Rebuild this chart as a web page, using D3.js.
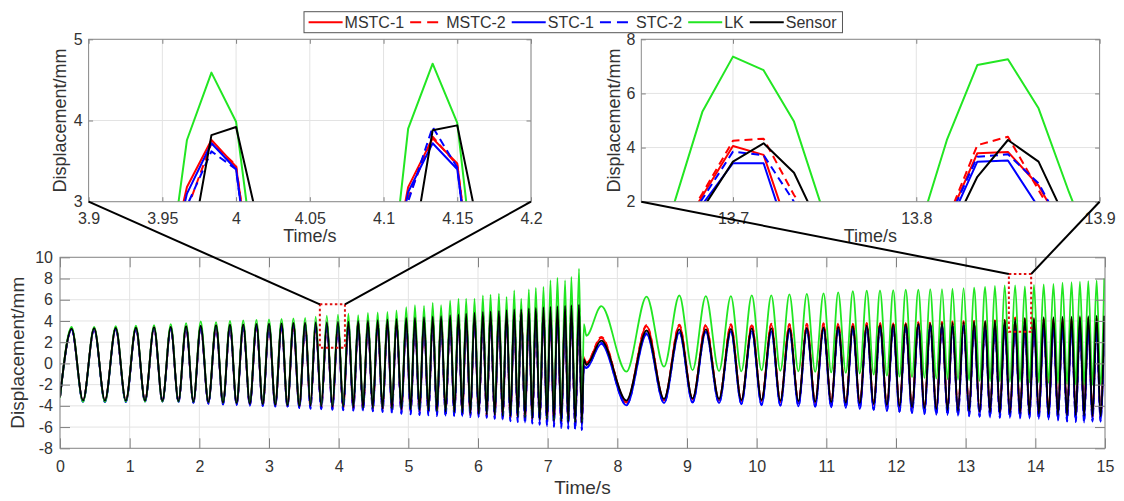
<!DOCTYPE html>
<html><head><meta charset="utf-8">
<script src="https://cdn.jsdelivr.net/npm/d3@7"></script>
<style>
body{margin:0;background:#fff;}
svg text{font-family:"Liberation Sans",Arial,Helvetica,sans-serif;fill:#333;}
</style></head><body>
<svg id="chart" width="1124" height="501"></svg>
<script>
// ---- extremum times of the main record ----
var peakT1 = [0.167,0.49,0.80,1.09,1.35,1.59,1.81,2.02,2.24,2.44,2.63,2.82,3.00,3.18,3.35,3.52,3.67,3.83,3.99,4.14,4.28,4.42,4.56,4.70,4.83,4.97,5.095,5.225,5.35,5.47,5.60,5.72,5.83,5.95,6.07,6.18,6.30,6.41,6.52,6.62,6.73,6.83,6.94,7.04,7.14,7.25,7.34,7.45];
var troughT1 = [0.33,0.645,0.945,1.22,1.47,1.70,1.915,2.13,2.34,2.535,2.725,2.91,3.09,3.265,3.435,3.595,3.75,3.91,4.065,4.21,4.35,4.49,4.63,4.765,4.90,5.033,5.16,5.288,5.41,5.535,5.66,5.775,5.89,6.01,6.125,6.24,6.355,6.465,6.57,6.675,6.78,6.885,6.99,7.09,7.195,7.295,7.395,7.49];
var peakT2 = [7.77,8.42,8.89,9.27,9.63,9.93,10.21,10.47,10.72,10.96,11.17,11.38,11.58,11.77,11.96,12.14,12.32,12.49,12.66,12.81,12.97,13.12,13.28,13.42,13.56,13.71,13.85,13.98,14.12,14.26,14.39,14.52,14.64,14.76,14.88,14.99];
var troughT2 = [8.13,8.67,9.08,9.46,9.78,10.07,10.34,10.60,10.84,11.07,11.28,11.48,11.68,11.87,12.05,12.23,12.41,12.58,12.74,12.89,13.05,13.20,13.35,13.49,13.635,13.78,13.915,14.05,14.19,14.325,14.455,14.58,14.70,14.82,14.935];
var joinT = [0, 7.52, 7.555];

// ---- MSTC-1 ----
var mstc1Pk1 = [3.25,3.3,3.32,3.35,3.38,3.42,3.46,3.5,3.55,3.58,3.6,3.62,3.65,3.68,3.7,3.72,3.74,3.75,3.76,3.78,3.85,3.9,3.95,4.0,4.08,4.15,4.2,4.25,4.3,4.35,4.42,4.5,4.58,4.65,4.72,4.78,4.82,4.9,4.95,5.0,5.05,5.1,5.18,5.22,5.28,5.32,5.38,5.42];
var mstc1Tr1 = [-3.55,-3.55,-3.55,-3.55,-3.58,-3.6,-3.65,-3.7,-3.75,-3.8,-3.85,-3.9,-3.95,-4.0,-4.05,-4.08,-4.12,-4.18,-4.2,-4.25,-4.3,-4.3,-4.35,-4.4,-4.45,-4.48,-4.52,-4.58,-4.62,-4.68,-4.72,-4.78,-4.82,-4.88,-4.92,-4.98,-5.05,-5.1,-5.15,-5.22,-5.3,-5.35,-5.42,-5.5,-5.55,-5.62,-5.68,-5.72];
var mstc1Pk2 = [2.4,3.5,3.55,3.55,3.6,3.6,3.65,3.65,3.65,3.7,3.7,3.75,3.75,3.8,3.8,3.82,3.85,3.85,3.88,3.9,3.92,3.95,3.98,4.0,4.02,4.06,3.86,4.1,4.15,4.18,4.2,4.22,4.25,4.25,4.28,4.3];
var mstc1Tr2 = [-3.65,-3.45,-3.4,-3.45,-3.55,-3.55,-3.6,-3.65,-3.7,-3.75,-3.8,-3.85,-3.9,-4.0,-4.08,-4.18,-4.28,-4.38,-4.45,-4.5,-4.55,-4.6,-4.65,-4.7,-4.75,-4.75,-4.8,-4.8,-4.85,-4.9,-4.95,-4.95,-5.0,-5.05,-5.05];
var mstc1Join = [-3.2, 0.55, 0.0];
// ---- MSTC-2 ----
var mstc2Pk1 = [3.24,3.3,3.33,3.36,3.4,3.43,3.47,3.52,3.56,3.6,3.62,3.64,3.66,3.68,3.7,3.71,3.72,3.72,3.72,3.8,3.88,3.92,3.98,4.05,4.1,4.18,4.22,4.28,4.32,4.38,4.45,4.52,4.6,4.68,4.75,4.8,4.85,4.92,4.98,5.02,5.08,5.12,5.2,5.25,5.3,5.35,5.4,5.45];
var mstc2Tr1 = [-3.55,-3.56,-3.56,-3.56,-3.6,-3.62,-3.66,-3.72,-3.78,-3.82,-3.88,-3.92,-3.98,-4.02,-4.08,-4.1,-4.15,-4.2,-4.22,-4.28,-4.32,-4.34,-4.38,-4.42,-4.48,-4.5,-4.55,-4.6,-4.65,-4.7,-4.75,-4.8,-4.85,-4.9,-4.95,-5.0,-5.08,-5.12,-5.18,-5.25,-5.32,-5.38,-5.45,-5.52,-5.58,-5.65,-5.7,-5.75];
var mstc2Pk2 = [2.5,3.6,3.65,3.65,3.7,3.7,3.75,3.72,3.75,3.8,3.78,3.8,3.82,3.85,3.85,3.88,3.9,3.9,3.92,3.95,3.98,4.0,4.02,4.05,4.1,4.33,4.4,4.15,4.2,4.22,4.25,4.28,4.3,4.3,4.32,4.35];
var mstc2Tr2 = [-3.7,-3.5,-3.45,-3.5,-3.58,-3.6,-3.65,-3.7,-3.75,-3.8,-3.85,-3.9,-3.95,-4.05,-4.12,-4.22,-4.32,-4.4,-4.48,-4.52,-4.58,-4.62,-4.68,-4.72,-4.78,-4.78,-4.82,-4.85,-4.88,-4.92,-4.98,-5.0,-5.02,-5.08,-5.08];
var mstc2Join = [-3.22, 0.6, 0.05];
// ---- STC-1 ----
var stc1Pk1 = [3.22,3.26,3.28,3.3,3.34,3.38,3.42,3.46,3.5,3.54,3.56,3.6,3.62,3.65,3.68,3.7,3.71,3.72,3.72,3.72,3.8,3.85,3.9,3.98,4.05,4.12,4.18,4.22,4.28,4.32,4.4,4.48,4.55,4.62,4.7,4.75,4.8,4.88,4.92,4.98,5.02,5.08,5.15,5.2,5.25,5.3,5.35,5.4];
var stc1Tr1 = [-3.6,-3.62,-3.62,-3.6,-3.62,-3.65,-3.7,-3.78,-3.85,-3.9,-3.95,-4.0,-4.05,-4.1,-4.2,-4.25,-4.3,-4.35,-4.4,-4.42,-4.45,-4.5,-4.55,-4.65,-4.72,-4.78,-4.85,-4.88,-4.92,-4.95,-4.98,-5.0,-5.02,-5.05,-5.1,-5.2,-5.3,-5.42,-5.5,-5.58,-5.65,-5.75,-5.85,-5.95,-6.05,-6.12,-6.18,-6.25];
var stc1Pk2 = [1.85,2.75,2.9,2.95,3.0,3.05,3.05,3.1,3.15,3.2,3.25,3.3,3.35,3.4,3.45,3.5,3.5,3.55,3.55,3.55,3.55,3.5,3.5,3.5,3.45,3.42,3.52,3.55,3.6,3.6,3.6,3.65,3.65,3.6,3.5,3.2];
var stc1Tr2 = [-3.95,-3.75,-3.7,-3.75,-3.85,-3.95,-4.0,-4.05,-4.1,-4.15,-4.2,-4.3,-4.4,-4.5,-4.6,-4.7,-4.8,-4.85,-4.9,-4.95,-5.0,-5.05,-5.1,-5.15,-5.15,-5.2,-5.2,-5.25,-5.3,-5.4,-5.5,-5.55,-5.58,-5.5,-5.5];
var stc1Join = [-3.2, -0.25, -0.45];
// ---- STC-2 ----
var stc2Pk1 = [3.2,3.25,3.27,3.3,3.33,3.37,3.4,3.45,3.48,3.52,3.55,3.57,3.6,3.62,3.64,3.65,3.65,3.64,3.62,3.9,3.78,3.84,3.9,3.96,4.02,4.1,4.15,4.2,4.25,4.3,4.38,4.45,4.52,4.6,4.66,4.72,4.78,4.85,4.9,4.95,5.0,5.05,5.12,5.18,5.22,5.28,5.32,5.38];
var stc2Tr1 = [-3.62,-3.64,-3.64,-3.62,-3.64,-3.68,-3.72,-3.8,-3.88,-3.92,-3.98,-4.02,-4.08,-4.12,-4.22,-4.28,-4.32,-4.38,-4.42,-4.45,-4.48,-4.52,-4.58,-4.68,-4.75,-4.8,-4.88,-4.9,-4.95,-4.98,-5.0,-5.02,-5.05,-5.08,-5.12,-5.22,-5.32,-5.45,-5.52,-5.6,-5.68,-5.78,-5.88,-5.98,-6.08,-6.15,-6.2,-6.28];
var stc2Pk2 = [1.95,2.85,2.95,3.0,3.05,3.1,3.1,3.15,3.2,3.25,3.3,3.35,3.4,3.45,3.5,3.55,3.55,3.6,3.6,3.62,3.62,3.6,3.6,3.62,3.7,3.85,3.75,3.7,3.72,3.72,3.75,3.75,3.75,3.7,3.6,3.3];
var stc2Tr2 = [-3.9,-3.7,-3.65,-3.7,-3.8,-3.9,-3.95,-4.0,-4.05,-4.1,-4.15,-4.25,-4.35,-4.45,-4.55,-4.65,-4.75,-4.8,-4.85,-4.9,-4.95,-5.0,-5.05,-5.1,-5.1,-5.15,-5.15,-5.2,-5.25,-5.35,-5.45,-5.5,-5.52,-5.45,-5.45];
var stc2Join = [-3.22, -0.2, -0.4];
// ---- LK ----
var lkPk1 = [3.43,3.45,3.5,3.55,3.6,3.7,3.8,3.95,3.9,4.0,4.05,4.1,4.15,4.2,4.25,4.3,4.4,4.5,4.59,4.7,4.55,4.75,4.8,4.85,5.0,5.3,5.48,5.42,5.7,5.48,5.95,6.1,6.1,6.1,6.42,6.48,6.58,6.26,6.89,6.1,6.98,7.11,7.2,7.83,8.05,7.83,8.15,8.93];
var lkTr1 = [-3.62,-3.62,-3.6,-3.6,-3.6,-3.6,-3.62,-3.65,-3.7,-3.72,-3.75,-3.8,-3.85,-3.9,-3.95,-3.95,-4.0,-4.02,-4.05,-4.1,-4.12,-4.15,-4.2,-4.22,-4.25,-4.3,-4.35,-4.4,-4.45,-4.5,-4.55,-4.6,-4.65,-4.7,-4.75,-4.8,-4.88,-4.92,-4.98,-5.02,-5.1,-5.15,-5.2,-5.3,-5.35,-5.4,-5.45,-5.5];
var lkPk2 = [5.4,6.3,6.4,6.35,6.35,6.42,6.42,6.5,6.55,6.6,6.7,6.8,6.85,6.89,6.9,6.95,6.95,7.0,7.0,7.05,7.1,7.15,7.2,7.3,7.36,7.36,7.26,7.4,7.45,7.5,7.6,7.65,7.7,7.75,7.83,8.0];
var lkTr2 = [-0.78,-0.31,-0.63,-0.72,-0.75,-0.65,-0.7,-0.75,-0.8,-0.85,-0.9,-0.95,-1.05,-1.15,-1.25,-1.3,-1.38,-1.43,-1.5,-1.55,-1.6,-1.65,-1.7,-1.7,-1.75,-1.75,-1.8,-1.8,-1.85,-1.9,-1.95,-2.0,-2.0,-2.05,-2.0];
var lkJoin = [-3.25, 3.7, 2.6];
// ---- Sensor ----
var sensorPk1 = [3.28,3.32,3.35,3.38,3.42,3.45,3.5,3.55,3.6,3.65,3.68,3.72,3.75,3.78,3.82,3.85,3.88,3.9,3.93,3.95,4.0,4.02,4.08,4.15,4.2,4.28,4.32,4.36,4.42,4.45,4.55,4.62,4.7,4.78,4.85,4.9,4.95,5.02,5.08,5.1,5.18,5.22,5.3,5.35,5.4,5.45,5.5,5.55];
var sensorTr1 = [-3.48,-3.5,-3.5,-3.5,-3.52,-3.55,-3.6,-3.65,-3.7,-3.75,-3.8,-3.85,-3.9,-3.95,-4.0,-4.0,-4.05,-4.1,-4.1,-4.15,-4.2,-4.2,-4.25,-4.28,-4.32,-4.35,-4.4,-4.45,-4.5,-4.55,-4.6,-4.65,-4.7,-4.75,-4.8,-4.85,-4.95,-5.0,-5.05,-5.1,-5.2,-5.25,-5.3,-5.4,-5.45,-5.5,-5.55,-5.6];
var sensorPk2 = [2.15,3.1,3.2,3.2,3.25,3.3,3.3,3.3,3.35,3.4,3.45,3.5,3.55,3.6,3.65,3.7,3.72,3.75,3.8,3.85,3.9,3.95,4.0,4.05,4.1,4.16,4.28,4.3,4.35,4.35,4.4,4.4,4.45,4.45,4.5,4.5];
var sensorTr2 = [-3.5,-3.35,-3.3,-3.35,-3.45,-3.45,-3.5,-3.55,-3.6,-3.65,-3.7,-3.75,-3.8,-3.9,-4.0,-4.1,-4.2,-4.3,-4.4,-4.45,-4.5,-4.55,-4.6,-4.65,-4.7,-4.7,-4.75,-4.75,-4.8,-4.85,-4.9,-4.9,-4.95,-5.0,-5.0];
var sensorJoin = [-3.17, 0.4, -0.15];

// ---- zoomed samples (60 Hz) ----
var inset1T = [3.95,3.9667,3.9833,4.0,4.0167,4.1,4.1167,4.1333,4.15,4.1667];
var in1Mstc1 = [1.88,3.18,3.76,3.43,1.3,1.6,3.18,3.78,3.47,1.0];
var in1Mstc2 = [1.5,2.9,3.72,3.45,1.2,1.4,3.05,3.8,3.45,1.1];
var in1Stc1 = [1.8,3.1,3.72,3.40,1.1,1.5,3.12,3.72,3.40,1.0];
var in1Stc2 = [1.6,2.95,3.62,3.40,1.1,1.4,3.0,3.92,3.42,1.0];
var in1Lk = [1.53,3.76,4.59,3.985,1.64,1.17,3.90,4.70,3.97,1.3];
var in1Sensor = [0.3,2.13,3.82,3.92,2.6,0.2,2.05,3.88,3.94,2.46];

var inset2T = [13.6667,13.6833,13.7,13.7167,13.7333,13.75,13.8,13.8167,13.8333,13.85,13.8667,13.8833,13.9];
var in2Mstc1 = [0.4,2.21,4.06,3.73,0.4,-1.0,-0.5,1.23,3.79,3.84,2.6,0.6,-1.0];
var in2Mstc2 = [0.5,2.3,4.25,4.33,2.25,0.5,-0.5,1.3,4.09,4.40,2.43,0.5,-1.0];
var in2Stc1 = [0.3,1.9,3.42,3.42,0.0,-1.0,-0.5,1.0,3.48,3.52,1.79,0.0,-1.0];
var in2Stc2 = [0.4,2.1,3.85,3.72,2.0,0.0,-0.5,1.2,3.66,3.75,2.68,0.6,-1.0];
var in2Lk = [1.67,5.32,7.36,6.86,4.96,1.48,0.61,4.28,7.05,7.26,5.45,2.35,-0.5];
var in2Sensor = [0.5,1.73,3.48,4.16,3.07,0.69,-0.7,0.6,2.92,4.28,3.48,1.09,-1.0];

// zoom windows marked on the main plot [t0, t1, v0, v1]
var zoomBox1 = [3.73, 4.09, 1.48, 5.57];
var zoomBox2 = [13.62, 13.94, 2.99, 8.43];

var mainXTicks = d3.range(0, 16);
var mainYTicks = [-8,-6,-4,-2,0,2,4,6,8,10];
var in1XTicks = [3.9,3.95,4,4.05,4.1,4.15,4.2];
var in1YTicks = [3,4,5];
var in2XTicks = [13.7,13.8,13.9];
var in2YTicks = [2,4,6,8];

var series = [
  {name:'MSTC-1', color:'#ff0000', dash:null,  main:[mstc1Pk1,mstc1Tr1,mstc1Pk2,mstc1Tr2,mstc1Join], in1:in1Mstc1, in2:in2Mstc1},
  {name:'MSTC-2', color:'#ff0000', dash:true,  main:[mstc2Pk1,mstc2Tr1,mstc2Pk2,mstc2Tr2,mstc2Join], in1:in1Mstc2, in2:in2Mstc2},
  {name:'STC-1',  color:'#0000ff', dash:null,  main:[stc1Pk1,stc1Tr1,stc1Pk2,stc1Tr2,stc1Join], in1:in1Stc1, in2:in2Stc1},
  {name:'STC-2',  color:'#0000ff', dash:true,  main:[stc2Pk1,stc2Tr1,stc2Pk2,stc2Tr2,stc2Join], in1:in1Stc2, in2:in2Stc2},
  {name:'LK',     color:'#22e622', dash:null,  main:[lkPk1,lkTr1,lkPk2,lkTr2,lkJoin], in1:in1Lk, in2:in2Lk},
  {name:'Sensor', color:'#000000', dash:null,  main:[sensorPk1,sensorTr1,sensorPk2,sensorTr2,sensorJoin], in1:in1Sensor, in2:in2Sensor}
];

// merge the extrema of one series into a time ordered list
function mainPoints(s) {
  var pk1 = s[0], tr1 = s[1], pk2 = s[2], tr2 = s[3], jn = s[4];
  var pts = [[joinT[0], jn[0]]];
  peakT1.forEach(function (t, i) { pts.push([t, pk1[i]], [troughT1[i], tr1[i]]); });
  pts.push([joinT[1], jn[1]], [joinT[2], jn[2]]);
  peakT2.forEach(function (t, i) {
    pts.push([t, pk2[i]]);
    if (i < troughT2.length) pts.push([troughT2[i], tr2[i]]);
  });
  return pts;
}

var svg = d3.select('#chart');
svg.append('rect').attr('width', 1124).attr('height', 501).attr('fill', '#fff');

var fmt = function (d) { return String(+d.toFixed(2)); };

function drawPanel(id, x, y, xt, yt, opt) {
  var g = svg.append('g').attr('class', id);
  var L = x.range()[0], R = x.range()[1], B = y.range()[0], T = y.range()[1];

  // grid
  g.append('g').selectAll('line.vg').data(xt).enter().append('line')
    .attr('class', 'vg')
    .attr('x1', x).attr('x2', x).attr('y1', T).attr('y2', B)
    .attr('stroke', '#e3e3e3').attr('stroke-width', 1);
  g.append('g').selectAll('line.hg').data(yt).enter().append('line')
    .attr('class', 'hg')
    .attr('x1', L).attr('x2', R).attr('y1', y).attr('y2', y)
    .attr('stroke', '#e3e3e3').attr('stroke-width', 1);

  // data lines
  g.append('clipPath').attr('id', 'clip-' + id)
    .append('rect').attr('x', L).attr('y', T).attr('width', R - L).attr('height', B - T);
  var lines = g.append('g').attr('clip-path', 'url(#clip-' + id + ')');
  var line = d3.line().x(function (d) { return x(d[0]); }).y(function (d) { return y(d[1]); });
  if (opt.curve) line.curve(opt.curve);
  series.forEach(function (s) {
    lines.append('path')
      .datum(opt.points(s))
      .attr('d', line)
      .attr('fill', 'none')
      .attr('stroke', s.color)
      .attr('stroke-width', opt.lw)
      .attr('stroke-linejoin', 'round')
      .attr('stroke-dasharray', s.dash ? opt.dash : null);
  });

  // axes, ticks inside on every side
  var tl = opt.tickLen;
  var ax = [
    g.append('g').attr('transform', 'translate(0,' + B + ')')
      .call(d3.axisBottom(x).tickValues(xt).tickSize(-tl).tickPadding(opt.xPad).tickFormat(fmt)),
    g.append('g').attr('transform', 'translate(0,' + T + ')')
      .call(d3.axisTop(x).tickValues(xt).tickSize(-tl).tickFormat('')),
    g.append('g').attr('transform', 'translate(' + L + ',0)')
      .call(d3.axisLeft(y).tickValues(yt).tickSize(-tl).tickPadding(opt.yPad).tickFormat(fmt)),
    g.append('g').attr('transform', 'translate(' + R + ',0)')
      .call(d3.axisRight(y).tickValues(yt).tickSize(-tl).tickFormat(''))
  ];
  ax.forEach(function (a) {
    a.select('.domain').remove();
    a.selectAll('.tick line').attr('stroke', '#808080');
    a.selectAll('.tick text').attr('font-size', 16).attr('fill', '#333')
      .attr('font-family', '"Liberation Sans", Arial, sans-serif');
  });

  g.append('rect').attr('x', L).attr('y', T).attr('width', R - L).attr('height', B - T)
    .attr('fill', 'none').attr('stroke', '#8a8a8a').attr('stroke-width', 1);

  // labels
  g.append('text').attr('x', (L + R) / 2).attr('y', opt.xLabelY)
    .attr('text-anchor', 'middle').attr('font-size', opt.xLabelSize).text('Time/s');
  g.append('text')
    .attr('transform', 'translate(' + opt.yLabelX + ',' + (T + B) / 2 + ') rotate(-90)')
    .attr('text-anchor', 'middle').attr('font-size', opt.yLabelSize).text('Displacement/mm');
  return g;
}

// main plot
var mx = d3.scaleLinear().domain([0, 15]).range([60, 1105]);
var my = d3.scaleLinear().domain([-8, 10]).range([448.3, 257.3]);
drawPanel('main', mx, my, mainXTicks, mainYTicks, {
  points: function (s) { return mainPoints(s.main); },
  curve: d3.curveMonotoneX, lw: 1.8, dash: '6,4', tickLen: 10, xPad: 12, yPad: 7,
  xLabelY: 494, xLabelSize: 19, yLabelX: 24, yLabelSize: 19
});

// inset 1
var ax1 = d3.scaleLinear().domain([3.9, 4.2]).range([88.6, 531]);
var ay1 = d3.scaleLinear().domain([3, 5]).range([201.7, 39.3]);
drawPanel('inset1', ax1, ay1, in1XTicks, in1YTicks, {
  points: function (s) { return inset1T.map(function (t, i) { return [t, s.in1[i]]; }); },
  curve: null, lw: 2, dash: '8,5', tickLen: 4.5, xPad: 11, yPad: 6,
  xLabelY: 242, xLabelSize: 18, yLabelX: 65.5, yLabelSize: 18
});

// inset 2
var ax2 = d3.scaleLinear().domain([13.65, 13.9]).range([641.3, 1099.6]);
var ay2 = d3.scaleLinear().domain([2, 8]).range([201.7, 39.3]);
drawPanel('inset2', ax2, ay2, in2XTicks, in2YTicks, {
  points: function (s) { return inset2T.map(function (t, i) { return [t, s.in2[i]]; }); },
  curve: null, lw: 2, dash: '8,5', tickLen: 4.5, xPad: 11, yPad: 6,
  xLabelY: 242, xLabelSize: 18, yLabelX: 619.5, yLabelSize: 18
});

// zoom boxes and connectors
var over = svg.append('g');
[[zoomBox1, ax1, ay1], [zoomBox2, ax2, ay2]].forEach(function (z) {
  var b = z[0];
  var x0 = mx(b[0]), x1 = mx(b[1]), yT = my(b[3]), yB = my(b[2]);
  over.append('rect').attr('x', x0).attr('y', yT).attr('width', x1 - x0).attr('height', yB - yT)
    .attr('fill', 'none').attr('stroke', '#e01010').attr('stroke-width', 2)
    .attr('stroke-dasharray', '2.5,2.5');
  var iB = z[2].range()[0];
  over.append('line').attr('x1', z[1].range()[0]).attr('y1', iB).attr('x2', x0).attr('y2', yT)
    .attr('stroke', '#000').attr('stroke-width', 2);
  over.append('line').attr('x1', z[1].range()[1]).attr('y1', iB).attr('x2', x1).attr('y2', yT)
    .attr('stroke', '#000').attr('stroke-width', 2);
});

// legend
var lg = svg.append('g');
var lgBox = lg.append('rect').attr('x', 304).attr('y', 11.7).attr('height', 21)
  .attr('fill', '#fff').attr('stroke', '#555').attr('stroke-width', 1);
var cx = 308.6, cy = 22.2;
series.forEach(function (s) {
  lg.append('line').attr('x1', cx).attr('x2', cx + 34).attr('y1', cy).attr('y2', cy)
    .attr('stroke', s.color).attr('stroke-width', 2)
    .attr('stroke-dasharray', s.dash ? '11,6,11,50' : null);
  var t = lg.append('text').attr('x', cx + 36).attr('y', cy + 5.8).attr('font-size', 16).text(s.name);
  cx = cx + 36 + t.node().getComputedTextLength() + 6;
});
lgBox.attr('width', cx - 304);
</script>
</body></html>
